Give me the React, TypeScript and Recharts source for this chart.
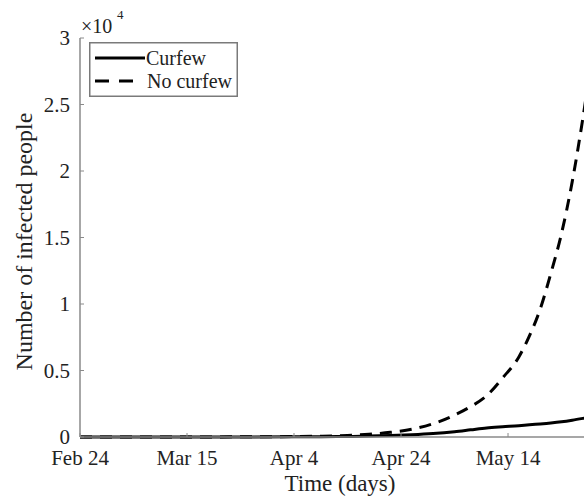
import React from "react";
import { LineChart, Line, XAxis, YAxis, Label } from "recharts";

const days = [0, 10, 20, 30, 40, 45, 50, 54, 58, 62, 66, 70, 73, 76, 79, 82, 84, 86, 88, 90, 92, 94, 96];
const curfew = [0, 0, 1, 3, 10, 20, 40, 70, 110, 170, 260, 400, 540, 680, 770, 850, 920, 980, 1050, 1140, 1260, 1400, 1550];
const noCurfew = [0, 2, 5, 12, 30, 60, 120, 200, 350, 580, 1000, 1650, 2280, 3100, 4450, 6000, 7600, 9600, 12300, 15300, 19200, 24000, 29500];
const xTickDays = [0, 20, 40, 60, 80];
const xTickLabels = ["Feb 24", "Mar 15", "Apr 4", "Apr 24", "May 14"];
const yTicks = [0, 5000, 10000, 15000, 20000, 25000, 30000];
const seriesNames = ["Curfew", "No curfew"];

const data = days.map((d, i) => ({ day: d, curfew: curfew[i], noCurfew: noCurfew[i] }));

const FONT = "'Liberation Serif', 'Times New Roman', serif";
const TXT = "#222";
const AXIS = "#8a8a8a";

const YTick = (props: any) => {
  const { x, y, payload } = props;
  return (
    <g>
      <line x1={x + 10} x2={x + 14} y1={y} y2={y} stroke={AXIS} strokeWidth={1} />
      <text x={x} y={y} dy="0.355em" textAnchor="end" fontFamily={FONT} fontSize={21} fill={TXT}>
        {String(payload.value / 10000)}
      </text>
    </g>
  );
};

const XTick = (props: any) => {
  const { x, y, payload } = props;
  const idx = xTickDays.indexOf(payload.value);
  return (
    <g>
      <line x1={x} x2={x} y1={y - 13} y2={y - 17} stroke={AXIS} strokeWidth={1} />
      <text x={x} y={y} dy="0.71em" textAnchor="middle" fontFamily={FONT} fontSize={21} fill={TXT}>
        {idx >= 0 ? xTickLabels[idx] : ""}
      </text>
    </g>
  );
};

const LegendBox = () => (
  <svg width={149} height={55} style={{ display: "block" }}>
    <rect x={0.75} y={0.75} width={147.5} height={53.5} fill="#fff" stroke="#7a7a7a" strokeWidth={1.5} />
    <line x1={6} x2={56} y1={16} y2={16} stroke="#000" strokeWidth={3} />
    <text x={57} y={16} dy="0.35em" fontFamily={FONT} fontSize={20} fill={TXT}>{seriesNames[0]}</text>
    <line x1={6} x2={46} y1={39} y2={39} stroke="#000" strokeWidth={3} strokeDasharray="14 10" />
    <text x={58} y={39} dy="0.35em" fontFamily={FONT} fontSize={20} fill={TXT}>{seriesNames[1]}</text>
  </svg>
);

export default function App() {
  return (
    <div style={{ position: "absolute", left: 0, top: 0, width: 584, height: 500, background: "#fff", overflow: "hidden" }}>
      <LineChart width={584} height={500} data={data} margin={{ top: 38, right: 0, bottom: 0, left: 0 }}>
        <XAxis
          dataKey="day"
          type="number"
          domain={[0, 94.2]}
          allowDataOverflow
          ticks={xTickDays}
          height={63}
          tickSize={0}
          tickMargin={13}
          tick={<XTick />}
          axisLine={{ stroke: AXIS, strokeWidth: 1.5 }}
        >
          <Label
            content={(p: any) => {
              const vb = p.viewBox;
              return (
                <text x={vb.x + vb.width / 2 + 8} y={491} textAnchor="middle" fontFamily={FONT} fontSize={23} fill={TXT}>
                  Time (days)
                </text>
              );
            }}
          />
        </XAxis>
        <YAxis
          type="number"
          domain={[0, 30000]}
          ticks={yTicks}
          width={80}
          tickSize={0}
          tickMargin={10}
          tick={<YTick />}
          axisLine={{ stroke: AXIS, strokeWidth: 1.5 }}
        >
          <Label
            content={(p: any) => {
              const vb = p.viewBox;
              const cy = vb.y + vb.height / 2 + 4;
              return (
                <g>
                  <text
                    x={24}
                    y={cy}
                    transform={`rotate(-90 24 ${cy})`}
                    textAnchor="middle"
                    dominantBaseline="central"
                    fontFamily={FONT}
                    fontSize={24}
                    fill={TXT}
                  >
                    Number of infected people
                  </text>
                  <text x={vb.x + vb.width + 1} y={33} fontFamily={FONT} fontSize={20} fill={TXT}>
                    ×10
                  </text>
                  <text x={vb.x + vb.width + 37} y={19} fontFamily={FONT} fontSize={13} fill={TXT}>
                    4
                  </text>
                </g>
              );
            }}
          />
        </YAxis>
        <Line
          type="monotone"
          dataKey="curfew"
          name={seriesNames[0]}
          stroke="#000"
          strokeWidth={3}
          dot={false}
          isAnimationActive={false}
        />
        <Line
          type="monotone"
          dataKey="noCurfew"
          name={seriesNames[1]}
          stroke="#000"
          strokeWidth={3}
          strokeDasharray="12 8"
          dot={false}
          isAnimationActive={false}
        />
      </LineChart>
      <div style={{ position: "absolute", left: 89, top: 42 }}>
        <LegendBox />
      </div>
    </div>
  );
}
